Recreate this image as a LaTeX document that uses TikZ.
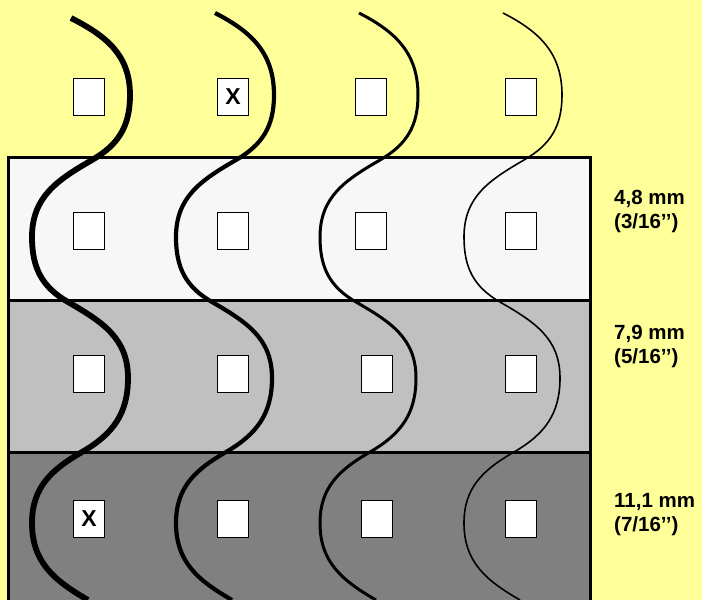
\documentclass[tikz,border=0pt]{standalone}
\usepackage{fontspec}
\setmainfont{Liberation Sans}
\definecolor{paper}{HTML}{FFFF99}
\definecolor{bandA}{HTML}{F7F7F7}
\definecolor{bandB}{HTML}{C0C0C0}
\definecolor{bandC}{HTML}{808080}

\begin{document}
\begin{tikzpicture}[x=1pt, y=1pt,
  hole/.style={draw, fill=white, line width=1.2pt, minimum width=31pt, minimum height=37pt,
    inner sep=0pt, font=\bfseries\fontsize{23}{23}\selectfont},
  gauge/.style={anchor=west, align=left, inner sep=0pt, font=\bfseries\fontsize{20.5}{24}\selectfont}]
\fill[paper] (0,-600) rectangle (702,0);
\useasboundingbox (0,-600) rectangle (702,0);

% Draw bands.
\fill[bandA] (8,-157) rectangle (590,-300);
\fill[bandB] (8,-300) rectangle (590,-452);
\fill[bandC] (8,-452) rectangle (590,-600);
\draw[line width=3pt] (8,-600) -- (8,-157) -- (590,-157) -- (590,-600);
\draw[line width=3pt] (8,-300) -- (590,-300);
\draw[line width=3pt] (8,-452) -- (590,-452);

% Draw yarns.
\foreach \i/\w/\s in {0/5.8/18, 1/4.2/13, 2/3/13, 3/1.6/13} {
  \draw[line width=\w pt, shift={(\i*144,0)}, looseness=1.05]
    (71,-\s) to[out=-27,in=90] (130,-95)
    to[out=-90,in=30] (92,-160)
    to[out=-150,in=90] (32,-237)
    to[out=-90,in=150] (68,-302)
    to[out=-30,in=90] (128,-378)
    to[out=-90,in=30] (82,-452)
    to[out=-150,in=90] (32,-523)
    to[out=-90,in=150] (88,-600);
}

% Draw holes.
\node[hole] (h11) at (89,-97) {};
\node[hole] (h12) at (233,-97) {X};
\node[hole] (h13) at (371,-97) {};
\node[hole] (h14) at (521,-97) {};

\node[hole] (h21) at (89,-231) {};
\node[hole] (h22) at (233,-231) {};
\node[hole] (h23) at (371,-231) {};
\node[hole] (h24) at (521,-231) {};

\node[hole] (h31) at (89,-374) {};
\node[hole] (h32) at (233,-374) {};
\node[hole] (h33) at (377,-374) {};
\node[hole] (h34) at (521,-374) {};

\node[hole] (h41) at (89,-519) {X};
\node[hole] (h42) at (233,-519) {};
\node[hole] (h43) at (377,-519) {};
\node[hole] (h44) at (521,-519) {};

% Draw gauges.
\node[gauge] (g1) at (614,-211) {4,8 mm\\(3/16’’)};
\node[gauge] (g2) at (614,-346) {7,9 mm\\(5/16’’)};
\node[gauge] (g3) at (614,-515) {11,1 mm\\(7/16’’)};

\end{tikzpicture}
\end{document}
